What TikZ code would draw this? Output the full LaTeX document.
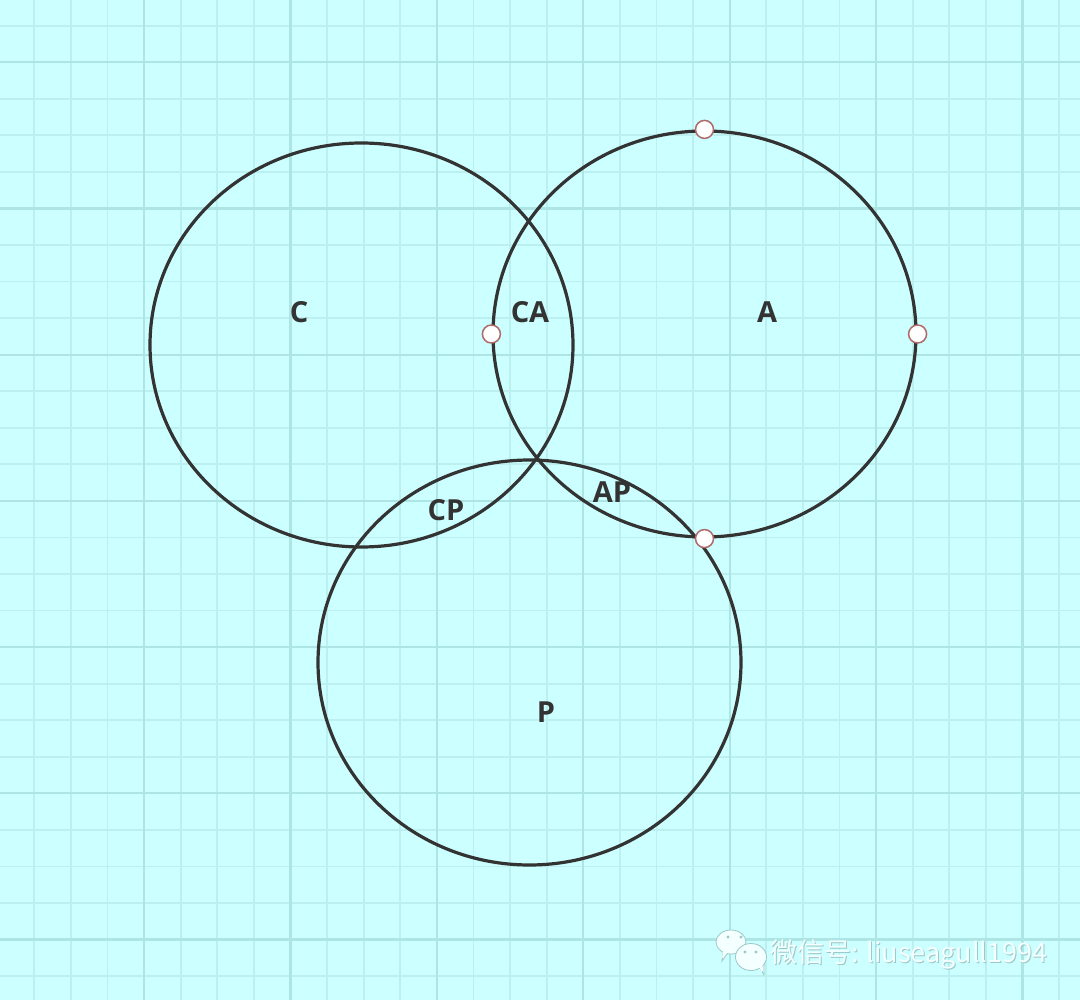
\documentclass[tikz,border=0pt]{standalone}
\usepackage{fontspec}
\usetikzlibrary{shapes.geometric}
\setmainfont{Open Sans}
\newfontfamily\cjk{Noto Sans CJK SC}
\definecolor{bgc}{HTML}{CCFFFF}
\definecolor{minorc}{HTML}{BCF0F0}
\definecolor{majorc}{HTML}{ADE4E4}
\definecolor{ink}{HTML}{333333}
\definecolor{hdl}{HTML}{B06A6A}
\definecolor{wm}{HTML}{F4FFFF}
\definecolor{wmshadow}{HTML}{9CC8C8}
\tikzset{
  venn/.style={shape=ellipse, draw=ink, line width=3.2pt, minimum width=423pt, minimum height=404pt, inner sep=0pt},
  lbl/.style={text=ink, font=\fontsize{29}{29}\selectfont\bfseries, inner sep=0pt},
  handle/.style={circle, draw=hdl, fill=white, line width=1.5pt, minimum size=18pt, inner sep=0pt},
  minorline/.style={draw=minorc, line width=1.8pt},
  majorline/.style={draw=majorc, line width=2.2pt},
  bubble/.style={fill=wm, draw=wmshadow, line width=0.8pt},
  wmtext/.style={inner sep=0pt, anchor=base west, font=\fontsize{27}{27}\selectfont\cjk}
}
\begin{document}
\begin{tikzpicture}[x=1pt,y=-1pt]
\useasboundingbox (0,0) rectangle (1080,1000);
\fill[bgc] (0,0) rectangle (1080,1000);
% grid
\foreach \i in {-3,...,25} {
  \pgfmathsetmacro{\gx}{144+36.6*\i}
  \draw[minorline] (\gx,0) -- (\gx,1000);
}
\foreach \i in {-1,...,26} {
  \pgfmathsetmacro{\gy}{62.3+36.55*\i}
  \draw[minorline] (0,\gy) -- (1080,\gy);
}
\foreach \i in {0,...,6} {
  \pgfmathsetmacro{\gx}{144+146.4*\i}
  \draw[majorline] (\gx,0) -- (\gx,1000);
  \pgfmathsetmacro{\gy}{62.3+146.2*\i}
  \draw[majorline] (0,\gy) -- (1080,\gy);
}
% circles
\node[venn] (cC) at (361.5,345) {};
\node[venn, minimum height=406pt] (cA) at (704.5,334) {};
\node[venn, minimum height=405pt] (cP) at (529.5,662.5) {};
% handles
\node[handle] (h1) at (cA.north) {};
\node[handle] (h2) at (cA.east) {};
\node[handle] (h3) at (cA.west) {};
\node[handle] (h4) at (cA.south) {};
% labels
\node[lbl] (lC) at (299,312) {C};
\node[lbl] (lCA) at (530,312) {CA};
\node[lbl] (lA) at (767,312) {A};
\node[lbl] (lCP) at (446,510) {CP};
\node[lbl] (lAP) at (612,492) {AP};
\node[lbl] (lP) at (546,712) {P};
% watermark icon
\begin{scope}
  \path[bubble] (722,961) -- (724,948) -- (730,950) -- cycle;
  \path[bubble] (731,942) ellipse (15pt and 12pt);
  \fill[wm] (722,958) -- (724,947) -- (730,950) -- cycle;
  \fill[wmshadow] (728,937) circle (1.6pt) (741,937) circle (1.6pt);
  \path[bubble] (764,975) -- (758,964) -- (764,962) -- cycle;
  \path[bubble] (751,957) ellipse (15.5pt and 13.5pt);
  \fill[wm] (762,972) -- (757,963) -- (763,961) -- cycle;
  \fill[wmshadow] (745,952) circle (1.6pt) (756,952) circle (1.6pt);
\end{scope}
\node[wmtext, text=wmshadow] (wms) at (771,963) {微信号: liuseagull1994};
\node[wmtext, text=wm] (wmt) at (770,962) {微信号: liuseagull1994};
\end{tikzpicture}
\end{document}
